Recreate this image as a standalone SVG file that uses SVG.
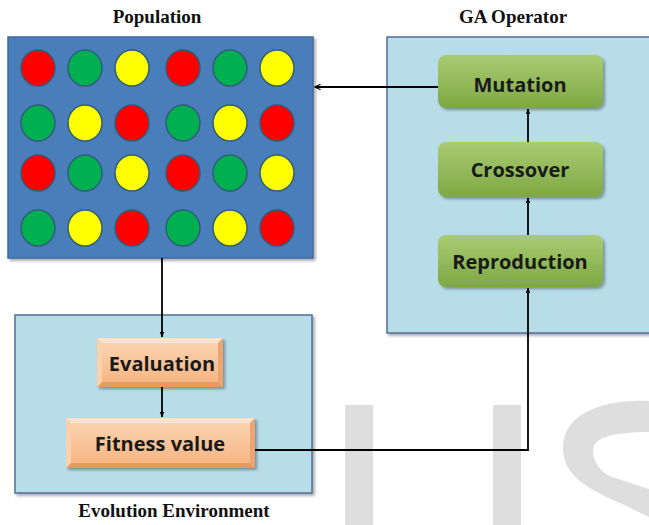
<svg xmlns="http://www.w3.org/2000/svg" width="649" height="525" viewBox="0 0 649 525">
<defs>
<filter id="sh" x="-10%" y="-10%" width="130%" height="130%"><feDropShadow dx="2" dy="2" stdDeviation="1.5" flood-color="#000" flood-opacity="0.35"/></filter>
<linearGradient id="gg" x1="0" y1="0" x2="0" y2="1"><stop offset="0" stop-color="#a9cc72"/><stop offset="1" stop-color="#7ea844"/></linearGradient>
<linearGradient id="og" x1="0" y1="0" x2="0" y2="1"><stop offset="0" stop-color="#fcd7b6"/><stop offset="1" stop-color="#f6b27e"/></linearGradient>
<marker id="ah" viewBox="0 0 10 10" refX="9" refY="5" markerWidth="7" markerHeight="7" markerUnits="userSpaceOnUse" orient="auto"><path d="M1,1 L9,5 L1,9" fill="none" stroke="#000" stroke-width="1.6"/></marker>
<marker id="ahs" viewBox="0 0 10 10" refX="9" refY="5" markerWidth="6" markerHeight="6" markerUnits="userSpaceOnUse" orient="auto"><path d="M0,1 L10,5 L0,9 Z" fill="#000"/></marker>
</defs>
<style>
.title{font-family:"Liberation Serif",serif;font-weight:bold;font-size:19px;fill:#111;text-anchor:middle}
.lbl{font-family:"Open Sans","Liberation Sans",sans-serif;font-weight:bold;font-size:20px;fill:#1a1a1a;text-anchor:middle}
.panel{fill:#b7dde8;stroke:#4f6f96;stroke-width:1.5}
.gbox{fill:url(#gg);filter:url(#sh)}
.obox{fill:url(#og);filter:url(#sh)}
.r{fill:#ff0000}.g{fill:#00b050}.y{fill:#ffff00}
ellipse{stroke:#2f5d7a;stroke-width:1.5}
.con{fill:none;stroke:#000;stroke-width:1.8}
.wm{fill:#dedede}
</style>
<g id="watermark">
<rect class="wm" x="345" y="405" width="28" height="120"/>
<rect class="wm" x="493" y="405" width="28" height="120"/>
<path class="wm" d="M649,401 C600,399 563,415 563,448 C563,474 585,488 620,503 L649,517 L649,489 L612,477 C600,472 593,462 593,450 C593,438 612,432 649,432 Z"/>
</g>
<g id="population">
<text class="title" x="157" y="23">Population</text>
<rect x="8" y="37" width="305" height="221" fill="#4a7ebb" stroke="#3d6aa0" stroke-width="1.5" filter="url(#sh)"/>
<g>
<ellipse class="r" cx="38" cy="68" rx="17" ry="18"/><ellipse class="g" cx="85" cy="68" rx="17" ry="18"/><ellipse class="y" cx="132" cy="68" rx="17" ry="18"/><ellipse class="r" cx="183" cy="68" rx="17" ry="18"/><ellipse class="g" cx="230" cy="68" rx="17" ry="18"/><ellipse class="y" cx="277" cy="68" rx="17" ry="18"/>
<ellipse class="g" cx="38" cy="123" rx="17" ry="18"/><ellipse class="y" cx="85" cy="123" rx="17" ry="18"/><ellipse class="r" cx="132" cy="123" rx="17" ry="18"/><ellipse class="g" cx="183" cy="123" rx="17" ry="18"/><ellipse class="y" cx="230" cy="123" rx="17" ry="18"/><ellipse class="r" cx="277" cy="123" rx="17" ry="18"/>
<ellipse class="r" cx="38" cy="173" rx="17" ry="18"/><ellipse class="g" cx="85" cy="173" rx="17" ry="18"/><ellipse class="y" cx="132" cy="173" rx="17" ry="18"/><ellipse class="r" cx="183" cy="173" rx="17" ry="18"/><ellipse class="g" cx="230" cy="173" rx="17" ry="18"/><ellipse class="y" cx="277" cy="173" rx="17" ry="18"/>
<ellipse class="g" cx="38" cy="228" rx="17" ry="18"/><ellipse class="y" cx="85" cy="228" rx="17" ry="18"/><ellipse class="r" cx="132" cy="228" rx="17" ry="18"/><ellipse class="g" cx="183" cy="228" rx="17" ry="18"/><ellipse class="y" cx="230" cy="228" rx="17" ry="18"/><ellipse class="r" cx="277" cy="228" rx="17" ry="18"/>
</g>
</g>
<g id="ga-operator">
<text class="title" x="513" y="23">GA Operator</text>
<rect class="panel" x="387" y="37" width="270" height="296" filter="url(#sh)"/>
</g>
<g id="evolution-environment">
<rect class="panel" x="15" y="315" width="297" height="178" filter="url(#sh)"/>
<text class="title" x="174" y="517">Evolution Environment</text>
</g>
<g id="mutation"><rect class="gbox" x="438" y="55" width="165" height="53" rx="8"/><text class="lbl" x="520" y="92">Mutation</text></g>
<g id="crossover"><rect class="gbox" x="438" y="142" width="165" height="55" rx="8"/><text class="lbl" x="520" y="177">Crossover</text></g>
<g id="reproduction"><rect class="gbox" x="438" y="235" width="165" height="52" rx="8"/><text class="lbl" x="520" y="269">Reproduction</text></g>
<g id="evaluation">
<rect class="obox" x="97" y="338" width="126" height="49"/>
<path d="M97,338 H223 L218,343 H102 Z" fill="#fde3cc"/>
<path d="M97,387 H223 L218,382 H102 Z" fill="#e59a62"/>
<path d="M97,338 V387 L102,382 V343 Z" fill="#fbd0ad"/>
<path d="M223,338 V387 L218,382 V343 Z" fill="#eca572"/>
<text class="lbl" x="162" y="371">Evaluation</text>
</g>
<g id="fitness-value">
<rect class="obox" x="66" y="418" width="189" height="50"/>
<path d="M66,418 H255 L250,423 H71 Z" fill="#fde3cc"/>
<path d="M66,468 H255 L250,463 H71 Z" fill="#e59a62"/>
<path d="M66,418 V468 L71,463 V423 Z" fill="#fbd0ad"/>
<path d="M255,418 V468 L250,463 V423 Z" fill="#eca572"/>
<text class="lbl" x="160" y="451">Fitness value</text>
</g>
<g id="connectors">
<line class="con" x1="438" y1="87" x2="315" y2="87" marker-end="url(#ah)"/>
<line class="con" x1="162" y1="258" x2="162" y2="337" marker-end="url(#ahs)"/>
<line class="con" x1="162" y1="387" x2="162" y2="417" marker-end="url(#ahs)"/>
<polyline class="con" points="255,450 528,450 528,288" marker-end="url(#ahs)"/>
<line class="con" x1="528" y1="235" x2="528" y2="198" marker-end="url(#ahs)"/>
<line class="con" x1="528" y1="142" x2="528" y2="109" marker-end="url(#ahs)"/>
</g>
</svg>
